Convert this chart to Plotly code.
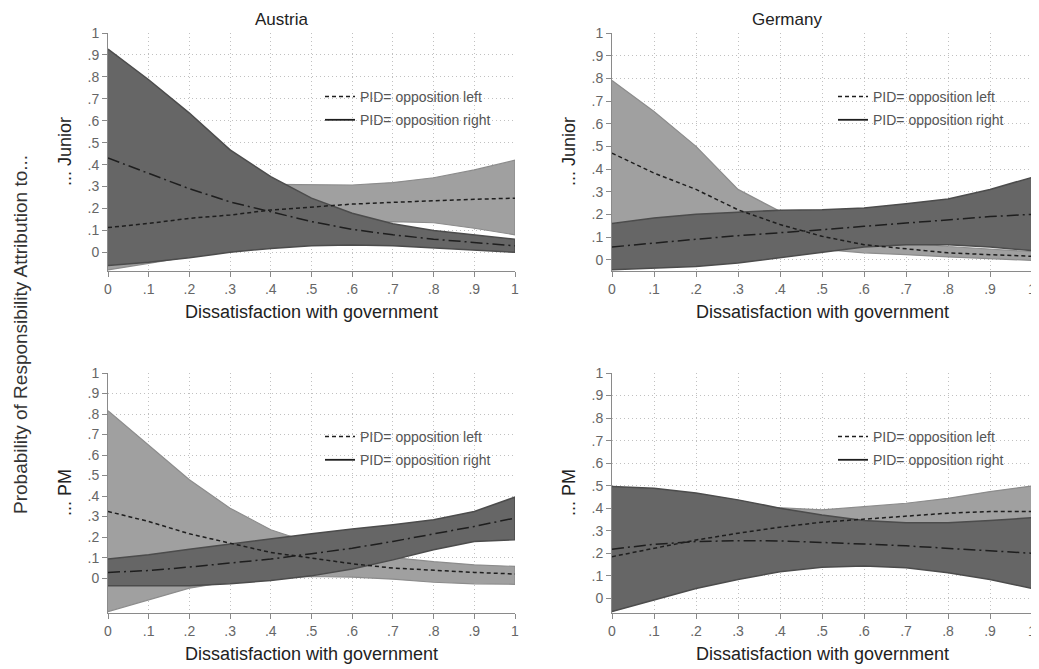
import plotly.graph_objects as go

x = [0, 0.1, 0.2, 0.3, 0.4, 0.5, 0.6, 0.7, 0.8, 0.9, 1.0]

# Austria - Junior
at_j_left = [0.113, 0.132, 0.155, 0.170, 0.193, 0.205, 0.220, 0.228, 0.236, 0.242, 0.247]
at_j_left_hi = [0.31, 0.30, 0.30, 0.30, 0.31, 0.31, 0.307, 0.318, 0.34, 0.376, 0.42]
at_j_left_lo = [-0.08, -0.05, -0.02, 0.02, 0.06, 0.10, 0.135, 0.14, 0.135, 0.11, 0.08]
at_j_right = [0.43, 0.36, 0.29, 0.23, 0.185, 0.14, 0.105, 0.08, 0.06, 0.044, 0.03]
at_j_right_hi = [0.927, 0.787, 0.635, 0.467, 0.345, 0.247, 0.178, 0.13, 0.10, 0.08, 0.06]
at_j_right_lo = [-0.06, -0.045, -0.025, 0.0, 0.018, 0.03, 0.033, 0.03, 0.018, 0.01, 0.0]

# Germany - Junior
de_j_left = [0.47, 0.382, 0.31, 0.22, 0.155, 0.103, 0.066, 0.047, 0.03, 0.022, 0.015]
de_j_left_hi = [0.79, 0.654, 0.50, 0.31, 0.213, 0.15, 0.10, 0.075, 0.058, 0.045, 0.035]
de_j_left_lo = [0.16, 0.13, 0.10, 0.08, 0.06, 0.045, 0.03, 0.022, 0.012, 0.003, -0.003]
de_j_right = [0.056, 0.074, 0.09, 0.106, 0.118, 0.132, 0.147, 0.162, 0.176, 0.19, 0.2]
de_j_right_hi = [0.159, 0.184, 0.20, 0.21, 0.218, 0.22, 0.228, 0.247, 0.268, 0.31, 0.363]
de_j_right_lo = [-0.044, -0.037, -0.03, -0.015, 0.007, 0.032, 0.056, 0.066, 0.066, 0.056, 0.04]

# Austria - PM
at_p_left = [0.325, 0.276, 0.216, 0.17, 0.125, 0.098, 0.07, 0.049, 0.037, 0.028, 0.02]
at_p_left_hi = [0.816, 0.65, 0.48, 0.341, 0.236, 0.17, 0.13, 0.10, 0.08, 0.065, 0.057]
at_p_left_lo = [-0.163, -0.105, -0.049, -0.016, 0.0, 0.008, 0.005, -0.005, -0.02, -0.028, -0.03]
at_p_right = [0.028, 0.037, 0.054, 0.073, 0.093, 0.119, 0.146, 0.179, 0.216, 0.252, 0.293]
at_p_right_hi = [0.093, 0.114, 0.141, 0.167, 0.192, 0.216, 0.239, 0.26, 0.285, 0.325, 0.395]
at_p_right_lo = [-0.037, -0.037, -0.037, -0.028, -0.011, 0.011, 0.044, 0.089, 0.138, 0.179, 0.187]

# Germany - PM
de_p_left = [0.185, 0.222, 0.259, 0.289, 0.316, 0.338, 0.351, 0.366, 0.378, 0.385, 0.385]
de_p_left_hi = [0.45, 0.44, 0.42, 0.41, 0.40, 0.393, 0.407, 0.422, 0.444, 0.474, 0.499]
de_p_left_lo = [-0.05, 0.02, 0.09, 0.15, 0.21, 0.27, 0.30, 0.31, 0.31, 0.30, 0.28]
de_p_right = [0.218, 0.24, 0.252, 0.256, 0.255, 0.249, 0.241, 0.233, 0.222, 0.212, 0.2]
de_p_right_hi = [0.496, 0.489, 0.467, 0.437, 0.40, 0.37, 0.345, 0.336, 0.336, 0.345, 0.358]
de_p_right_lo = [-0.059, -0.007, 0.044, 0.084, 0.118, 0.138, 0.144, 0.136, 0.114, 0.084, 0.044]

tick_vals = [0, 0.1, 0.2, 0.3, 0.4, 0.5, 0.6, 0.7, 0.8, 0.9, 1.0]
tick_text = ["0", ".1", ".2", ".3", ".4", ".5", ".6", ".7", ".8", ".9", "1"]

legend_left = "PID= opposition left"
legend_right = "PID= opposition right"
x_title = "Dissatisfaction with government"

# page is offset by the default 8px body margin; figure sized to fit the window
OFF = 8
W, H = 1039 - OFF, 669 - OFF
FONT = "Liberation Sans, Arial, Helvetica, sans-serif"


def px(v):
    return (v - OFF) / W


def py(v):
    return 1 - (v - OFF) / H


panels = [
    dict(xa="x", ya="y", left=at_j_left, lhi=at_j_left_hi, llo=at_j_left_lo,
         right=at_j_right, rhi=at_j_right_hi, rlo=at_j_right_lo,
         yr=[-0.085, 1.0], xd=(108, 515), yd=(33, 271), leg="legend", lpos=(320, 81)),
    dict(xa="x2", ya="y2", left=de_j_left, lhi=de_j_left_hi, llo=de_j_left_lo,
         right=de_j_right, rhi=de_j_right_hi, rlo=de_j_right_lo,
         yr=[-0.05, 1.0], xd=(612, 1032), yd=(33, 271), leg="legend2", lpos=(833, 81)),
    dict(xa="x3", ya="y3", left=at_p_left, lhi=at_p_left_hi, llo=at_p_left_lo,
         right=at_p_right, rhi=at_p_right_hi, rlo=at_p_right_lo,
         yr=[-0.17, 1.0], xd=(108, 515), yd=(373, 613), leg="legend3", lpos=(320, 421)),
    dict(xa="x4", ya="y4", left=de_p_left, lhi=de_p_left_hi, llo=de_p_left_lo,
         right=de_p_right, rhi=de_p_right_hi, rlo=de_p_right_lo,
         yr=[-0.065, 1.0], xd=(612, 1032), yd=(373, 613), leg="legend4", lpos=(833, 421)),
]

LIGHT_FILL = "#a0a0a0"
LIGHT_EDGE = "#8c8c8c"
DARK_FILL = "#666666"
DARK_EDGE = "#4c4c4c"
LINE_COLOR = "#1e1e1e"

fig = go.Figure()
layout = dict(
    width=W, height=H, margin=dict(l=0, r=0, t=0, b=0, autoexpand=False),
    paper_bgcolor="white", plot_bgcolor="white",
    font=dict(family=FONT, color="#333333"),
    showlegend=True,
)

annotations = []

for i, p in enumerate(panels):
    xa, ya = p["xa"], p["ya"]
    fig.add_trace(go.Scatter(
        x=x + x[::-1], y=p["lhi"] + p["llo"][::-1], xaxis=xa, yaxis=ya,
        mode="lines", fill="toself", fillcolor=LIGHT_FILL,
        line=dict(color=LIGHT_EDGE, width=1.2), showlegend=False, hoverinfo="skip"))
    fig.add_trace(go.Scatter(
        x=x + x[::-1], y=p["rhi"] + p["rlo"][::-1], xaxis=xa, yaxis=ya,
        mode="lines", fill="toself", fillcolor=DARK_FILL,
        line=dict(color=DARK_EDGE, width=1.5), showlegend=False, hoverinfo="skip"))
    fig.add_trace(go.Scatter(
        x=x, y=p["left"], xaxis=xa, yaxis=ya, mode="lines",
        line=dict(color=LINE_COLOR, width=1.5, dash="4px,3px"), showlegend=False))
    fig.add_trace(go.Scatter(
        x=x, y=p["right"], xaxis=xa, yaxis=ya, mode="lines",
        line=dict(color=LINE_COLOR, width=1.5, dash="12px,4px,2px,4px"), showlegend=False))
    fig.add_trace(go.Scatter(
        x=[None], y=[None], xaxis=xa, yaxis=ya, mode="lines", name=legend_left,
        legend=p["leg"], legendgroup="a%d" % i,
        line=dict(color=LINE_COLOR, width=1.5, dash="4px,3px")))
    fig.add_trace(go.Scatter(
        x=[None], y=[None], xaxis=xa, yaxis=ya, mode="lines", name=legend_right,
        legend=p["leg"], legendgroup="b%d" % i,
        line=dict(color=LINE_COLOR, width=1.8)))

    axn = "" if i == 0 else str(i + 1)
    xd = [px(p["xd"][0]), px(p["xd"][1])]
    yd = [py(p["yd"][1]), py(p["yd"][0])]
    common = dict(
        showgrid=True, gridcolor="#c0c0c0", griddash="1px,3px", gridwidth=1,
        showline=True, linecolor="#8a8a8a", linewidth=1,
        ticks="outside", ticklen=5, tickcolor="#8a8a8a", tickwidth=1,
        tickvals=tick_vals, ticktext=tick_text, zeroline=False, automargin=False,
        tickfont=dict(family=FONT, size=14, color="#666666"),
    )
    layout["xaxis" + axn] = dict(common, domain=xd, range=[0, 1.0],
                                 anchor="y" + axn)
    layout["yaxis" + axn] = dict(common, domain=yd, range=p["yr"],
                                 anchor="x" + axn)
    layout[p["leg"]] = dict(
        x=px(p["lpos"][0]), y=py(p["lpos"][1]), xanchor="left", yanchor="top",
        bgcolor="rgba(0,0,0,0)", borderwidth=0, tracegroupgap=2,
        font=dict(family=FONT, size=14, color="#555555"))

    annotations.append(dict(
        text=x_title, xref="paper", yref="paper",
        x=(xd[0] + xd[1]) / 2, y=py(p["yd"][1] + 41),
        xanchor="center", yanchor="middle", showarrow=False,
        font=dict(family=FONT, size=18, color="#222222")))
    ylab = "... Junior" if i < 2 else "... PM"
    annotations.append(dict(
        text=ylab, xref="paper", yref="paper",
        x=px(p["xd"][0] - 43), y=(yd[0] + yd[1]) / 2,
        xanchor="center", yanchor="middle", textangle=-90, showarrow=False,
        font=dict(family=FONT, size=18, color="#222222")))

annotations.append(dict(text="Austria", xref="paper", yref="paper",
                        x=px(281), y=py(20), xanchor="center", yanchor="middle",
                        showarrow=False, font=dict(family=FONT, size=17, color="#222222")))
annotations.append(dict(text="Germany", xref="paper", yref="paper",
                        x=px(787), y=py(20), xanchor="center", yanchor="middle",
                        showarrow=False, font=dict(family=FONT, size=17, color="#222222")))
annotations.append(dict(text="Probability of Responsibility Attribution to...",
                        xref="paper", yref="paper", x=px(21), y=py(335),
                        xanchor="center", yanchor="middle", textangle=-90,
                        showarrow=False, font=dict(family=FONT, size=19, color="#333333")))

layout["annotations"] = annotations
fig.update_layout(**layout)
fig.write_html("out.html")
